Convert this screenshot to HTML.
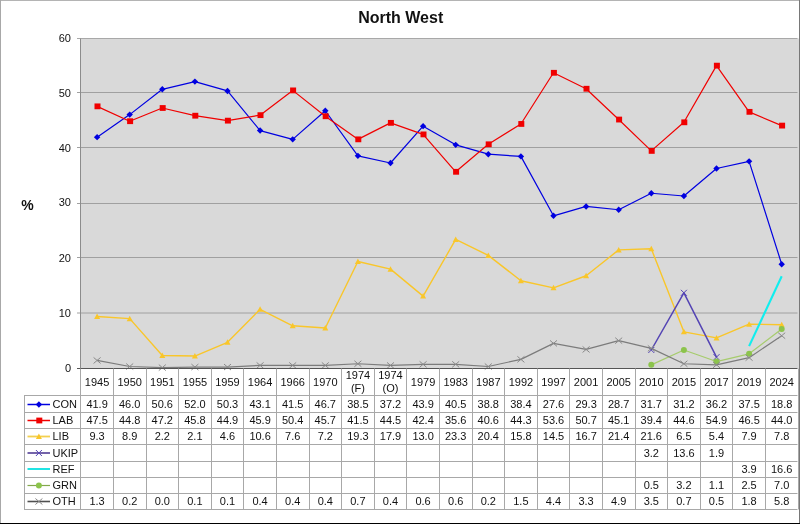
<!DOCTYPE html><html><head><meta charset="utf-8"><style>html,body{margin:0;padding:0;background:#fff;overflow:hidden}svg{display:block;will-change:transform}text{font-family:"Liberation Sans",sans-serif;fill:#111}</style></head><body>
<svg width="800" height="524" viewBox="0 0 800 524">
<rect x="0" y="0" width="800" height="524" fill="#fff"/>
<rect x="80.5" y="38.5" width="718.5" height="330.0" fill="#d9d9d9"/>
<line x1="77" y1="313.0" x2="797.5" y2="313.0" stroke="#a0a0a0" stroke-width="1"/>
<line x1="77" y1="257.5" x2="797.5" y2="257.5" stroke="#a0a0a0" stroke-width="1"/>
<line x1="77" y1="203.5" x2="797.5" y2="203.5" stroke="#a0a0a0" stroke-width="1"/>
<line x1="77" y1="147.5" x2="797.5" y2="147.5" stroke="#a0a0a0" stroke-width="1"/>
<line x1="77" y1="92.5" x2="797.5" y2="92.5" stroke="#a0a0a0" stroke-width="1"/>
<line x1="77" y1="38.5" x2="797.5" y2="38.5" stroke="#a8a8a8" stroke-width="1"/>
<line x1="80.5" y1="38.5" x2="80.5" y2="368.5" stroke="#8c8c8c" stroke-width="1"/>
<path d="M97.10 137.15 L129.70 114.60 L162.30 89.30 L194.90 81.60 L227.50 90.95 L260.10 130.55 L292.70 139.35 L325.30 110.75 L357.90 155.85 L390.50 163.00 L423.10 126.15 L455.70 144.85 L488.30 154.20 L520.90 156.40 L553.50 215.80 L586.10 206.45 L618.70 209.75 L651.30 193.25 L683.90 196.00 L716.50 168.50 L749.10 161.35 L781.70 264.20" stroke="#0000e0" stroke-width="1.2" fill="none" stroke-linejoin="round"/>
<path d="M93.90 137.15L97.10 133.95L100.30 137.15L97.10 140.35Z" fill="#0000e0"/>
<path d="M126.50 114.60L129.70 111.40L132.90 114.60L129.70 117.80Z" fill="#0000e0"/>
<path d="M159.10 89.30L162.30 86.10L165.50 89.30L162.30 92.50Z" fill="#0000e0"/>
<path d="M191.70 81.60L194.90 78.40L198.10 81.60L194.90 84.80Z" fill="#0000e0"/>
<path d="M224.30 90.95L227.50 87.75L230.70 90.95L227.50 94.15Z" fill="#0000e0"/>
<path d="M256.90 130.55L260.10 127.35L263.30 130.55L260.10 133.75Z" fill="#0000e0"/>
<path d="M289.50 139.35L292.70 136.15L295.90 139.35L292.70 142.55Z" fill="#0000e0"/>
<path d="M322.10 110.75L325.30 107.55L328.50 110.75L325.30 113.95Z" fill="#0000e0"/>
<path d="M354.70 155.85L357.90 152.65L361.10 155.85L357.90 159.05Z" fill="#0000e0"/>
<path d="M387.30 163.00L390.50 159.80L393.70 163.00L390.50 166.20Z" fill="#0000e0"/>
<path d="M419.90 126.15L423.10 122.95L426.30 126.15L423.10 129.35Z" fill="#0000e0"/>
<path d="M452.50 144.85L455.70 141.65L458.90 144.85L455.70 148.05Z" fill="#0000e0"/>
<path d="M485.10 154.20L488.30 151.00L491.50 154.20L488.30 157.40Z" fill="#0000e0"/>
<path d="M517.70 156.40L520.90 153.20L524.10 156.40L520.90 159.60Z" fill="#0000e0"/>
<path d="M550.30 215.80L553.50 212.60L556.70 215.80L553.50 219.00Z" fill="#0000e0"/>
<path d="M582.90 206.45L586.10 203.25L589.30 206.45L586.10 209.65Z" fill="#0000e0"/>
<path d="M615.50 209.75L618.70 206.55L621.90 209.75L618.70 212.95Z" fill="#0000e0"/>
<path d="M648.10 193.25L651.30 190.05L654.50 193.25L651.30 196.45Z" fill="#0000e0"/>
<path d="M680.70 196.00L683.90 192.80L687.10 196.00L683.90 199.20Z" fill="#0000e0"/>
<path d="M713.30 168.50L716.50 165.30L719.70 168.50L716.50 171.70Z" fill="#0000e0"/>
<path d="M745.90 161.35L749.10 158.15L752.30 161.35L749.10 164.55Z" fill="#0000e0"/>
<path d="M778.50 264.20L781.70 261.00L784.90 264.20L781.70 267.40Z" fill="#0000e0"/>
<path d="M97.10 106.35 L129.70 121.20 L162.30 108.00 L194.90 115.70 L227.50 120.65 L260.10 115.15 L292.70 90.40 L325.30 116.25 L357.90 139.35 L390.50 122.85 L423.10 134.40 L455.70 171.80 L488.30 144.30 L520.90 123.95 L553.50 72.80 L586.10 88.75 L618.70 119.55 L651.30 150.90 L683.90 122.30 L716.50 65.65 L749.10 111.85 L781.70 125.60" stroke="#f00000" stroke-width="1.2" fill="none" stroke-linejoin="round"/>
<rect x="94.50" y="103.45" width="6" height="5.8" fill="#f00000"/>
<rect x="127.10" y="118.30" width="6" height="5.8" fill="#f00000"/>
<rect x="159.70" y="105.10" width="6" height="5.8" fill="#f00000"/>
<rect x="192.30" y="112.80" width="6" height="5.8" fill="#f00000"/>
<rect x="224.90" y="117.75" width="6" height="5.8" fill="#f00000"/>
<rect x="257.50" y="112.25" width="6" height="5.8" fill="#f00000"/>
<rect x="290.10" y="87.50" width="6" height="5.8" fill="#f00000"/>
<rect x="322.70" y="113.35" width="6" height="5.8" fill="#f00000"/>
<rect x="355.30" y="136.45" width="6" height="5.8" fill="#f00000"/>
<rect x="387.90" y="119.95" width="6" height="5.8" fill="#f00000"/>
<rect x="420.50" y="131.50" width="6" height="5.8" fill="#f00000"/>
<rect x="453.10" y="168.90" width="6" height="5.8" fill="#f00000"/>
<rect x="485.70" y="141.40" width="6" height="5.8" fill="#f00000"/>
<rect x="518.30" y="121.05" width="6" height="5.8" fill="#f00000"/>
<rect x="550.90" y="69.90" width="6" height="5.8" fill="#f00000"/>
<rect x="583.50" y="85.85" width="6" height="5.8" fill="#f00000"/>
<rect x="616.10" y="116.65" width="6" height="5.8" fill="#f00000"/>
<rect x="648.70" y="148.00" width="6" height="5.8" fill="#f00000"/>
<rect x="681.30" y="119.40" width="6" height="5.8" fill="#f00000"/>
<rect x="713.90" y="62.75" width="6" height="5.8" fill="#f00000"/>
<rect x="746.50" y="108.95" width="6" height="5.8" fill="#f00000"/>
<rect x="779.10" y="122.70" width="6" height="5.8" fill="#f00000"/>
<path d="M97.10 316.45 L129.70 318.65 L162.30 355.50 L194.90 356.05 L227.50 342.30 L260.10 309.30 L292.70 325.80 L325.30 328.00 L357.90 261.45 L390.50 269.15 L423.10 296.10 L455.70 239.45 L488.30 255.40 L520.90 280.70 L553.50 287.85 L586.10 275.75 L618.70 249.90 L651.30 248.80 L683.90 331.85 L716.50 337.90 L749.10 324.15 L781.70 324.70" stroke="#f9c62a" stroke-width="1.4" fill="none" stroke-linejoin="round"/>
<path d="M94.10 318.95L97.10 313.45L100.10 318.95Z" fill="#f9c62a"/>
<path d="M126.70 321.15L129.70 315.65L132.70 321.15Z" fill="#f9c62a"/>
<path d="M159.30 358.00L162.30 352.50L165.30 358.00Z" fill="#f9c62a"/>
<path d="M191.90 358.55L194.90 353.05L197.90 358.55Z" fill="#f9c62a"/>
<path d="M224.50 344.80L227.50 339.30L230.50 344.80Z" fill="#f9c62a"/>
<path d="M257.10 311.80L260.10 306.30L263.10 311.80Z" fill="#f9c62a"/>
<path d="M289.70 328.30L292.70 322.80L295.70 328.30Z" fill="#f9c62a"/>
<path d="M322.30 330.50L325.30 325.00L328.30 330.50Z" fill="#f9c62a"/>
<path d="M354.90 263.95L357.90 258.45L360.90 263.95Z" fill="#f9c62a"/>
<path d="M387.50 271.65L390.50 266.15L393.50 271.65Z" fill="#f9c62a"/>
<path d="M420.10 298.60L423.10 293.10L426.10 298.60Z" fill="#f9c62a"/>
<path d="M452.70 241.95L455.70 236.45L458.70 241.95Z" fill="#f9c62a"/>
<path d="M485.30 257.90L488.30 252.40L491.30 257.90Z" fill="#f9c62a"/>
<path d="M517.90 283.20L520.90 277.70L523.90 283.20Z" fill="#f9c62a"/>
<path d="M550.50 290.35L553.50 284.85L556.50 290.35Z" fill="#f9c62a"/>
<path d="M583.10 278.25L586.10 272.75L589.10 278.25Z" fill="#f9c62a"/>
<path d="M615.70 252.40L618.70 246.90L621.70 252.40Z" fill="#f9c62a"/>
<path d="M648.30 251.30L651.30 245.80L654.30 251.30Z" fill="#f9c62a"/>
<path d="M680.90 334.35L683.90 328.85L686.90 334.35Z" fill="#f9c62a"/>
<path d="M713.50 340.40L716.50 334.90L719.50 340.40Z" fill="#f9c62a"/>
<path d="M746.10 326.65L749.10 321.15L752.10 326.65Z" fill="#f9c62a"/>
<path d="M778.70 327.20L781.70 321.70L784.70 327.20Z" fill="#f9c62a"/>
<path d="M651.30 350.00 L683.90 292.80 L716.50 357.15" stroke="#5444b4" stroke-width="1.5" fill="none" stroke-linejoin="round"/>
<path d="M648.30 347.00L654.30 353.00M648.30 353.00L654.30 347.00" stroke="#5444b4" stroke-width="1" fill="none"/>
<path d="M680.90 289.80L686.90 295.80M680.90 295.80L686.90 289.80" stroke="#5444b4" stroke-width="1" fill="none"/>
<path d="M713.50 354.15L719.50 360.15M713.50 360.15L719.50 354.15" stroke="#5444b4" stroke-width="1" fill="none"/>
<path d="M749.10 346.15 L781.70 276.30" stroke="#10eeee" stroke-width="2.1" fill="none" stroke-linejoin="round"/>


<path d="M651.30 364.85 L683.90 350.00 L716.50 361.55 L749.10 353.85 L781.70 329.10" stroke="#a6cc6c" stroke-width="1.2" fill="none" stroke-linejoin="round"/>
<circle cx="651.30" cy="364.85" r="3" fill="#8cc44c"/>
<circle cx="683.90" cy="350.00" r="3" fill="#8cc44c"/>
<circle cx="716.50" cy="361.55" r="3" fill="#8cc44c"/>
<circle cx="749.10" cy="353.85" r="3" fill="#8cc44c"/>
<circle cx="781.70" cy="329.10" r="3" fill="#8cc44c"/>
<path d="M97.10 360.45 L129.70 366.50 L162.30 367.60 L194.90 367.05 L227.50 367.05 L260.10 365.40 L292.70 365.40 L325.30 365.40 L357.90 363.75 L390.50 365.40 L423.10 364.30 L455.70 364.30 L488.30 366.50 L520.90 359.35 L553.50 343.40 L586.10 349.45 L618.70 340.65 L651.30 348.35 L683.90 363.75 L716.50 364.85 L749.10 357.70 L781.70 335.70" stroke="#7c7c7c" stroke-width="1.2" fill="none" stroke-linejoin="round"/>
<path d="M93.60 357.45L100.60 363.45M93.60 363.45L100.60 357.45" stroke="#8a8a8a" stroke-width="1" fill="none"/>
<path d="M126.20 363.50L133.20 369.50M126.20 369.50L133.20 363.50" stroke="#8a8a8a" stroke-width="1" fill="none"/>
<path d="M158.80 364.60L165.80 370.60M158.80 370.60L165.80 364.60" stroke="#8a8a8a" stroke-width="1" fill="none"/>
<path d="M191.40 364.05L198.40 370.05M191.40 370.05L198.40 364.05" stroke="#8a8a8a" stroke-width="1" fill="none"/>
<path d="M224.00 364.05L231.00 370.05M224.00 370.05L231.00 364.05" stroke="#8a8a8a" stroke-width="1" fill="none"/>
<path d="M256.60 362.40L263.60 368.40M256.60 368.40L263.60 362.40" stroke="#8a8a8a" stroke-width="1" fill="none"/>
<path d="M289.20 362.40L296.20 368.40M289.20 368.40L296.20 362.40" stroke="#8a8a8a" stroke-width="1" fill="none"/>
<path d="M321.80 362.40L328.80 368.40M321.80 368.40L328.80 362.40" stroke="#8a8a8a" stroke-width="1" fill="none"/>
<path d="M354.40 360.75L361.40 366.75M354.40 366.75L361.40 360.75" stroke="#8a8a8a" stroke-width="1" fill="none"/>
<path d="M387.00 362.40L394.00 368.40M387.00 368.40L394.00 362.40" stroke="#8a8a8a" stroke-width="1" fill="none"/>
<path d="M419.60 361.30L426.60 367.30M419.60 367.30L426.60 361.30" stroke="#8a8a8a" stroke-width="1" fill="none"/>
<path d="M452.20 361.30L459.20 367.30M452.20 367.30L459.20 361.30" stroke="#8a8a8a" stroke-width="1" fill="none"/>
<path d="M484.80 363.50L491.80 369.50M484.80 369.50L491.80 363.50" stroke="#8a8a8a" stroke-width="1" fill="none"/>
<path d="M517.40 356.35L524.40 362.35M517.40 362.35L524.40 356.35" stroke="#8a8a8a" stroke-width="1" fill="none"/>
<path d="M550.00 340.40L557.00 346.40M550.00 346.40L557.00 340.40" stroke="#8a8a8a" stroke-width="1" fill="none"/>
<path d="M582.60 346.45L589.60 352.45M582.60 352.45L589.60 346.45" stroke="#8a8a8a" stroke-width="1" fill="none"/>
<path d="M615.20 337.65L622.20 343.65M615.20 343.65L622.20 337.65" stroke="#8a8a8a" stroke-width="1" fill="none"/>
<path d="M647.80 345.35L654.80 351.35M647.80 351.35L654.80 345.35" stroke="#8a8a8a" stroke-width="1" fill="none"/>
<path d="M680.40 360.75L687.40 366.75M680.40 366.75L687.40 360.75" stroke="#8a8a8a" stroke-width="1" fill="none"/>
<path d="M713.00 361.85L720.00 367.85M713.00 367.85L720.00 361.85" stroke="#8a8a8a" stroke-width="1" fill="none"/>
<path d="M745.60 354.70L752.60 360.70M745.60 360.70L752.60 354.70" stroke="#8a8a8a" stroke-width="1" fill="none"/>
<path d="M778.20 332.70L785.20 338.70M778.20 338.70L785.20 332.70" stroke="#8a8a8a" stroke-width="1" fill="none"/>
<line x1="77" y1="368.5" x2="797.5" y2="368.5" stroke="#555" stroke-width="1"/>
<text x="71" y="371.7" font-size="11" text-anchor="end">0</text>
<text x="71" y="317.0" font-size="11" text-anchor="end">10</text>
<text x="71" y="261.7" font-size="11" text-anchor="end">20</text>
<text x="71" y="206.0" font-size="11" text-anchor="end">30</text>
<text x="71" y="152.0" font-size="11" text-anchor="end">40</text>
<text x="71" y="96.7" font-size="11" text-anchor="end">50</text>
<text x="71" y="41.5" font-size="11" text-anchor="end">60</text>
<text x="27.5" y="209.5" font-size="14" font-weight="bold" text-anchor="middle">%</text>
<text x="400.7" y="23.2" font-size="16" font-weight="bold" text-anchor="middle">North West</text>
<line x1="113.5" y1="368.5" x2="113.5" y2="509.5" stroke="#a8a8a8" stroke-width="1"/>
<line x1="146.5" y1="368.5" x2="146.5" y2="509.5" stroke="#a8a8a8" stroke-width="1"/>
<line x1="178.5" y1="368.5" x2="178.5" y2="509.5" stroke="#a8a8a8" stroke-width="1"/>
<line x1="211.5" y1="368.5" x2="211.5" y2="509.5" stroke="#a8a8a8" stroke-width="1"/>
<line x1="243.5" y1="368.5" x2="243.5" y2="509.5" stroke="#a8a8a8" stroke-width="1"/>
<line x1="276.5" y1="368.5" x2="276.5" y2="509.5" stroke="#a8a8a8" stroke-width="1"/>
<line x1="309.5" y1="368.5" x2="309.5" y2="509.5" stroke="#a8a8a8" stroke-width="1"/>
<line x1="341.5" y1="368.5" x2="341.5" y2="509.5" stroke="#a8a8a8" stroke-width="1"/>
<line x1="374.5" y1="368.5" x2="374.5" y2="509.5" stroke="#a8a8a8" stroke-width="1"/>
<line x1="406.5" y1="368.5" x2="406.5" y2="509.5" stroke="#a8a8a8" stroke-width="1"/>
<line x1="439.5" y1="368.5" x2="439.5" y2="509.5" stroke="#a8a8a8" stroke-width="1"/>
<line x1="472.5" y1="368.5" x2="472.5" y2="509.5" stroke="#a8a8a8" stroke-width="1"/>
<line x1="504.5" y1="368.5" x2="504.5" y2="509.5" stroke="#a8a8a8" stroke-width="1"/>
<line x1="537.5" y1="368.5" x2="537.5" y2="509.5" stroke="#a8a8a8" stroke-width="1"/>
<line x1="569.5" y1="368.5" x2="569.5" y2="509.5" stroke="#a8a8a8" stroke-width="1"/>
<line x1="602.5" y1="368.5" x2="602.5" y2="509.5" stroke="#a8a8a8" stroke-width="1"/>
<line x1="635.5" y1="368.5" x2="635.5" y2="509.5" stroke="#a8a8a8" stroke-width="1"/>
<line x1="667.5" y1="368.5" x2="667.5" y2="509.5" stroke="#a8a8a8" stroke-width="1"/>
<line x1="700.5" y1="368.5" x2="700.5" y2="509.5" stroke="#a8a8a8" stroke-width="1"/>
<line x1="732.5" y1="368.5" x2="732.5" y2="509.5" stroke="#a8a8a8" stroke-width="1"/>
<line x1="765.5" y1="368.5" x2="765.5" y2="509.5" stroke="#a8a8a8" stroke-width="1"/>
<line x1="798.5" y1="368.5" x2="798.5" y2="509.5" stroke="#a8a8a8" stroke-width="1"/>
<line x1="80.5" y1="368.5" x2="80.5" y2="509.5" stroke="#a8a8a8" stroke-width="1"/>
<line x1="24.5" y1="395.5" x2="24.5" y2="509.5" stroke="#a8a8a8" stroke-width="1"/>
<line x1="24" y1="395.5" x2="797.5" y2="395.5" stroke="#a8a8a8" stroke-width="1"/>
<line x1="24" y1="412.5" x2="797.5" y2="412.5" stroke="#a8a8a8" stroke-width="1"/>
<line x1="24" y1="428.5" x2="797.5" y2="428.5" stroke="#a8a8a8" stroke-width="1"/>
<line x1="24" y1="444.5" x2="797.5" y2="444.5" stroke="#a8a8a8" stroke-width="1"/>
<line x1="24" y1="461.5" x2="797.5" y2="461.5" stroke="#a8a8a8" stroke-width="1"/>
<line x1="24" y1="477.5" x2="797.5" y2="477.5" stroke="#a8a8a8" stroke-width="1"/>
<line x1="24" y1="493.5" x2="797.5" y2="493.5" stroke="#a8a8a8" stroke-width="1"/>
<line x1="24" y1="509.5" x2="797.5" y2="509.5" stroke="#a8a8a8" stroke-width="1"/>
<text x="97.10" y="386.2" font-size="11" text-anchor="middle">1945</text>
<text x="129.70" y="386.2" font-size="11" text-anchor="middle">1950</text>
<text x="162.30" y="386.2" font-size="11" text-anchor="middle">1951</text>
<text x="194.90" y="386.2" font-size="11" text-anchor="middle">1955</text>
<text x="227.50" y="386.2" font-size="11" text-anchor="middle">1959</text>
<text x="260.10" y="386.2" font-size="11" text-anchor="middle">1964</text>
<text x="292.70" y="386.2" font-size="11" text-anchor="middle">1966</text>
<text x="325.30" y="386.2" font-size="11" text-anchor="middle">1970</text>
<text x="357.90" y="378.8" font-size="11" text-anchor="middle">1974</text>
<text x="357.90" y="391.8" font-size="11" text-anchor="middle">(F)</text>
<text x="390.50" y="378.8" font-size="11" text-anchor="middle">1974</text>
<text x="390.50" y="391.8" font-size="11" text-anchor="middle">(O)</text>
<text x="423.10" y="386.2" font-size="11" text-anchor="middle">1979</text>
<text x="455.70" y="386.2" font-size="11" text-anchor="middle">1983</text>
<text x="488.30" y="386.2" font-size="11" text-anchor="middle">1987</text>
<text x="520.90" y="386.2" font-size="11" text-anchor="middle">1992</text>
<text x="553.50" y="386.2" font-size="11" text-anchor="middle">1997</text>
<text x="586.10" y="386.2" font-size="11" text-anchor="middle">2001</text>
<text x="618.70" y="386.2" font-size="11" text-anchor="middle">2005</text>
<text x="651.30" y="386.2" font-size="11" text-anchor="middle">2010</text>
<text x="683.90" y="386.2" font-size="11" text-anchor="middle">2015</text>
<text x="716.50" y="386.2" font-size="11" text-anchor="middle">2017</text>
<text x="749.10" y="386.2" font-size="11" text-anchor="middle">2019</text>
<text x="781.70" y="386.2" font-size="11" text-anchor="middle">2024</text>
<line x1="27.5" y1="404.50" x2="50" y2="404.50" stroke="#0000e0" stroke-width="1.5"/>
<path d="M35.70 404.50L38.90 401.30L42.10 404.50L38.90 407.70Z" fill="#0000e0"/>
<text x="52.5" y="407.70" font-size="11">CON</text>
<text x="97.10" y="407.70" font-size="11" text-anchor="middle">41.9</text>
<text x="129.70" y="407.70" font-size="11" text-anchor="middle">46.0</text>
<text x="162.30" y="407.70" font-size="11" text-anchor="middle">50.6</text>
<text x="194.90" y="407.70" font-size="11" text-anchor="middle">52.0</text>
<text x="227.50" y="407.70" font-size="11" text-anchor="middle">50.3</text>
<text x="260.10" y="407.70" font-size="11" text-anchor="middle">43.1</text>
<text x="292.70" y="407.70" font-size="11" text-anchor="middle">41.5</text>
<text x="325.30" y="407.70" font-size="11" text-anchor="middle">46.7</text>
<text x="357.90" y="407.70" font-size="11" text-anchor="middle">38.5</text>
<text x="390.50" y="407.70" font-size="11" text-anchor="middle">37.2</text>
<text x="423.10" y="407.70" font-size="11" text-anchor="middle">43.9</text>
<text x="455.70" y="407.70" font-size="11" text-anchor="middle">40.5</text>
<text x="488.30" y="407.70" font-size="11" text-anchor="middle">38.8</text>
<text x="520.90" y="407.70" font-size="11" text-anchor="middle">38.4</text>
<text x="553.50" y="407.70" font-size="11" text-anchor="middle">27.6</text>
<text x="586.10" y="407.70" font-size="11" text-anchor="middle">29.3</text>
<text x="618.70" y="407.70" font-size="11" text-anchor="middle">28.7</text>
<text x="651.30" y="407.70" font-size="11" text-anchor="middle">31.7</text>
<text x="683.90" y="407.70" font-size="11" text-anchor="middle">31.2</text>
<text x="716.50" y="407.70" font-size="11" text-anchor="middle">36.2</text>
<text x="749.10" y="407.70" font-size="11" text-anchor="middle">37.5</text>
<text x="781.70" y="407.70" font-size="11" text-anchor="middle">18.8</text>
<line x1="27.5" y1="420.50" x2="50" y2="420.50" stroke="#f00000" stroke-width="1.5"/>
<rect x="36.30" y="417.60" width="6" height="5.8" fill="#f00000"/>
<text x="52.5" y="423.99" font-size="11">LAB</text>
<text x="97.10" y="423.99" font-size="11" text-anchor="middle">47.5</text>
<text x="129.70" y="423.99" font-size="11" text-anchor="middle">44.8</text>
<text x="162.30" y="423.99" font-size="11" text-anchor="middle">47.2</text>
<text x="194.90" y="423.99" font-size="11" text-anchor="middle">45.8</text>
<text x="227.50" y="423.99" font-size="11" text-anchor="middle">44.9</text>
<text x="260.10" y="423.99" font-size="11" text-anchor="middle">45.9</text>
<text x="292.70" y="423.99" font-size="11" text-anchor="middle">50.4</text>
<text x="325.30" y="423.99" font-size="11" text-anchor="middle">45.7</text>
<text x="357.90" y="423.99" font-size="11" text-anchor="middle">41.5</text>
<text x="390.50" y="423.99" font-size="11" text-anchor="middle">44.5</text>
<text x="423.10" y="423.99" font-size="11" text-anchor="middle">42.4</text>
<text x="455.70" y="423.99" font-size="11" text-anchor="middle">35.6</text>
<text x="488.30" y="423.99" font-size="11" text-anchor="middle">40.6</text>
<text x="520.90" y="423.99" font-size="11" text-anchor="middle">44.3</text>
<text x="553.50" y="423.99" font-size="11" text-anchor="middle">53.6</text>
<text x="586.10" y="423.99" font-size="11" text-anchor="middle">50.7</text>
<text x="618.70" y="423.99" font-size="11" text-anchor="middle">45.1</text>
<text x="651.30" y="423.99" font-size="11" text-anchor="middle">39.4</text>
<text x="683.90" y="423.99" font-size="11" text-anchor="middle">44.6</text>
<text x="716.50" y="423.99" font-size="11" text-anchor="middle">54.9</text>
<text x="749.10" y="423.99" font-size="11" text-anchor="middle">46.5</text>
<text x="781.70" y="423.99" font-size="11" text-anchor="middle">44.0</text>
<line x1="27.5" y1="436.50" x2="50" y2="436.50" stroke="#f2d050" stroke-width="1.8"/>
<path d="M35.90 439.00L38.90 433.50L41.90 439.00Z" fill="#f9c62a"/>
<text x="52.5" y="440.27" font-size="11">LIB</text>
<text x="97.10" y="440.27" font-size="11" text-anchor="middle">9.3</text>
<text x="129.70" y="440.27" font-size="11" text-anchor="middle">8.9</text>
<text x="162.30" y="440.27" font-size="11" text-anchor="middle">2.2</text>
<text x="194.90" y="440.27" font-size="11" text-anchor="middle">2.1</text>
<text x="227.50" y="440.27" font-size="11" text-anchor="middle">4.6</text>
<text x="260.10" y="440.27" font-size="11" text-anchor="middle">10.6</text>
<text x="292.70" y="440.27" font-size="11" text-anchor="middle">7.6</text>
<text x="325.30" y="440.27" font-size="11" text-anchor="middle">7.2</text>
<text x="357.90" y="440.27" font-size="11" text-anchor="middle">19.3</text>
<text x="390.50" y="440.27" font-size="11" text-anchor="middle">17.9</text>
<text x="423.10" y="440.27" font-size="11" text-anchor="middle">13.0</text>
<text x="455.70" y="440.27" font-size="11" text-anchor="middle">23.3</text>
<text x="488.30" y="440.27" font-size="11" text-anchor="middle">20.4</text>
<text x="520.90" y="440.27" font-size="11" text-anchor="middle">15.8</text>
<text x="553.50" y="440.27" font-size="11" text-anchor="middle">14.5</text>
<text x="586.10" y="440.27" font-size="11" text-anchor="middle">16.7</text>
<text x="618.70" y="440.27" font-size="11" text-anchor="middle">21.4</text>
<text x="651.30" y="440.27" font-size="11" text-anchor="middle">21.6</text>
<text x="683.90" y="440.27" font-size="11" text-anchor="middle">6.5</text>
<text x="716.50" y="440.27" font-size="11" text-anchor="middle">5.4</text>
<text x="749.10" y="440.27" font-size="11" text-anchor="middle">7.9</text>
<text x="781.70" y="440.27" font-size="11" text-anchor="middle">7.8</text>
<line x1="27.5" y1="453.00" x2="50" y2="453.00" stroke="#7464aa" stroke-width="2"/>
<path d="M35.90 450.00L41.90 456.00M35.90 456.00L41.90 450.00" stroke="#5444b4" stroke-width="1" fill="none"/>
<text x="52.5" y="456.56" font-size="11">UKIP</text>
<text x="651.30" y="456.56" font-size="11" text-anchor="middle">3.2</text>
<text x="683.90" y="456.56" font-size="11" text-anchor="middle">13.6</text>
<text x="716.50" y="456.56" font-size="11" text-anchor="middle">1.9</text>
<line x1="27.5" y1="469.00" x2="50" y2="469.00" stroke="#20e4e4" stroke-width="2"/>

<text x="52.5" y="472.84" font-size="11">REF</text>
<text x="749.10" y="472.84" font-size="11" text-anchor="middle">3.9</text>
<text x="781.70" y="472.84" font-size="11" text-anchor="middle">16.6</text>
<line x1="27.5" y1="485.50" x2="50" y2="485.50" stroke="#84a84c" stroke-width="1.2"/>
<circle cx="38.90" cy="485.50" r="3" fill="#8cc44c"/>
<text x="52.5" y="489.13" font-size="11">GRN</text>
<text x="651.30" y="489.13" font-size="11" text-anchor="middle">0.5</text>
<text x="683.90" y="489.13" font-size="11" text-anchor="middle">3.2</text>
<text x="716.50" y="489.13" font-size="11" text-anchor="middle">1.1</text>
<text x="749.10" y="489.13" font-size="11" text-anchor="middle">2.5</text>
<text x="781.70" y="489.13" font-size="11" text-anchor="middle">7.0</text>
<line x1="27.5" y1="501.50" x2="50" y2="501.50" stroke="#505050" stroke-width="1.6"/>
<path d="M35.40 498.50L42.40 504.50M35.40 504.50L42.40 498.50" stroke="#8a8a8a" stroke-width="1" fill="none"/>
<text x="52.5" y="505.42" font-size="11">OTH</text>
<text x="97.10" y="505.42" font-size="11" text-anchor="middle">1.3</text>
<text x="129.70" y="505.42" font-size="11" text-anchor="middle">0.2</text>
<text x="162.30" y="505.42" font-size="11" text-anchor="middle">0.0</text>
<text x="194.90" y="505.42" font-size="11" text-anchor="middle">0.1</text>
<text x="227.50" y="505.42" font-size="11" text-anchor="middle">0.1</text>
<text x="260.10" y="505.42" font-size="11" text-anchor="middle">0.4</text>
<text x="292.70" y="505.42" font-size="11" text-anchor="middle">0.4</text>
<text x="325.30" y="505.42" font-size="11" text-anchor="middle">0.4</text>
<text x="357.90" y="505.42" font-size="11" text-anchor="middle">0.7</text>
<text x="390.50" y="505.42" font-size="11" text-anchor="middle">0.4</text>
<text x="423.10" y="505.42" font-size="11" text-anchor="middle">0.6</text>
<text x="455.70" y="505.42" font-size="11" text-anchor="middle">0.6</text>
<text x="488.30" y="505.42" font-size="11" text-anchor="middle">0.2</text>
<text x="520.90" y="505.42" font-size="11" text-anchor="middle">1.5</text>
<text x="553.50" y="505.42" font-size="11" text-anchor="middle">4.4</text>
<text x="586.10" y="505.42" font-size="11" text-anchor="middle">3.3</text>
<text x="618.70" y="505.42" font-size="11" text-anchor="middle">4.9</text>
<text x="651.30" y="505.42" font-size="11" text-anchor="middle">3.5</text>
<text x="683.90" y="505.42" font-size="11" text-anchor="middle">0.7</text>
<text x="716.50" y="505.42" font-size="11" text-anchor="middle">0.5</text>
<text x="749.10" y="505.42" font-size="11" text-anchor="middle">1.8</text>
<text x="781.70" y="505.42" font-size="11" text-anchor="middle">5.8</text>
<line x1="0" y1="0.5" x2="800" y2="0.5" stroke="#b4b4b4" stroke-width="1"/>
<line x1="0.5" y1="0" x2="0.5" y2="524" stroke="#a8a8a8" stroke-width="1"/>
<line x1="799.5" y1="0" x2="799.5" y2="524" stroke="#787878" stroke-width="1"/>
<line x1="0" y1="523.5" x2="800" y2="523.5" stroke="#000" stroke-width="1"/>
</svg></body></html>
